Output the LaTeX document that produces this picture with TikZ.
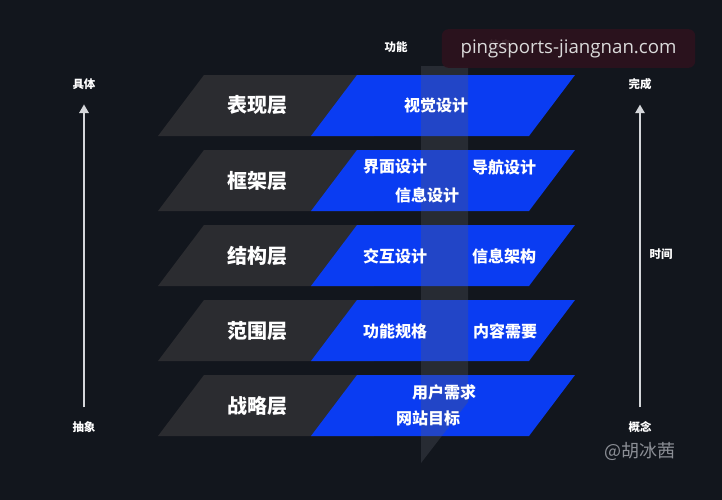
\documentclass[tikz,border=0pt]{standalone}
\usepackage{fontspec}
\setmainfont{Noto Sans CJK SC}
\newfontfamily\urlfont{Open Sans}
\usetikzlibrary{arrows.meta}

\definecolor{bg}{HTML}{12161D}
\definecolor{layergray}{HTML}{2B2C30}
\definecolor{layerblue}{HTML}{0A3CF2}
\definecolor{stripgray}{HTML}{5A5D66}
\definecolor{markbox}{HTML}{2C121D}
\definecolor{marktext}{HTML}{DADADA}
\definecolor{signgray}{HTML}{8C8F96}
\definecolor{axisgray}{HTML}{D4D6DA}

\tikzset{
	layer/.style = {font = \fontsize{15}{18}\selectfont\bfseries, text = white},
	item/.style = {font = \fontsize{12}{14}\selectfont\bfseries, text = white},
	tag/.style = {font = \fontsize{8.6}{10}\selectfont\bfseries, text = white, inner sep = 0pt},
	axis/.style = {draw = axisgray, line width = 1.5pt, -{Triangle[length = 6.5pt, width = 7pt]}},
}

\begin{document}
\begin{tikzpicture}[x = 0.75pt, y = -0.75pt]

\fill [bg] (0, 0) rectangle (722, 500);
\useasboundingbox (0, 0) rectangle (722, 500);

\fill [layergray] (158, 136) -- (204, 75) -- (420, 75) -- (374, 136) -- cycle;
\fill [layerblue] (311, 136) -- (357, 75) -- (575, 75) -- (529, 136) -- cycle;

\fill [layergray] (158, 211) -- (204, 150) -- (420, 150) -- (374, 211) -- cycle;
\fill [layerblue] (311, 211) -- (357, 150) -- (575, 150) -- (529, 211) -- cycle;

\fill [layergray] (158, 286) -- (204, 225) -- (420, 225) -- (374, 286) -- cycle;
\fill [layerblue] (311, 286) -- (357, 225) -- (575, 225) -- (529, 286) -- cycle;

\fill [layergray] (158, 361) -- (204, 300) -- (420, 300) -- (374, 361) -- cycle;
\fill [layerblue] (311, 361) -- (357, 300) -- (575, 300) -- (529, 361) -- cycle;

\fill [layergray] (158, 436) -- (204, 375) -- (420, 375) -- (374, 436) -- cycle;
\fill [layerblue] (311, 436) -- (357, 375) -- (575, 375) -- (529, 436) -- cycle;

\fill [stripgray, opacity = 0.3] (421, 66) -- (468, 66) -- (468, 402) -- (421, 463) -- cycle;

\node [layer] (biaoxian) at (257, 105) {表现层};
\node [layer] (kuangjia) at (257, 181) {框架层};
\node [layer] (jiegou) at (257, 256) {结构层};
\node [layer] (fanwei) at (257, 331) {范围层};
\node [layer] (zhanlue) at (257, 406) {战略层};

\node [item] (shijue) at (436, 105) {视觉设计};

\node [item] (jiemian) at (395, 167) {界面设计};
\node [item] (daohang) at (504, 167) {导航设计};
\node [item] (xinxisheji) at (427, 195) {信息设计};

\node [item] (jiaohu) at (395, 256) {交互设计};
\node [item] (jiagou) at (504, 256) {信息架构};

\node [item] (guige) at (395, 331) {功能规格};
\node [item] (neirong) at (505, 331) {内容需要};

\node [item] (xuqiu) at (444, 392) {用户需求};
\node [item] (mubiao) at (428, 418) {网站目标};

\node [tag] (gongneng) at (396, 47) {功能};
\node [tag] (xinxi) at (500, 45) {信息};

\node [tag] (juti) at (84, 84) {具体};
\node [tag] (chouxiang) at (84, 427) {抽象};
\draw [axis, shorten < = 10.5pt, shorten > = 11pt] (chouxiang) -- (juti);

\node [tag] (wancheng) at (640, 84) {完成};
\node [tag] (gainian) at (640, 427) {概念};
\draw [axis, shorten < = 10.5pt, shorten > = 11pt] (gainian) -- (wancheng);

\node [tag] (shijian) at (661, 254) {时间};

\node [fill = markbox, fill opacity = 0.93, text opacity = 1, rounded corners = 5pt, minimum width = 190pt, minimum height = 29pt, text = marktext, font = \urlfont\fontsize{14}{16}\selectfont] (url) at (568.5, 48.5) {pingsports-jiangnan.com};

\node [text = signgray, font = \fontsize{13.5}{16}\selectfont] (sign) at (640, 451) {@胡冰茜};

\end{tikzpicture}
\end{document}
